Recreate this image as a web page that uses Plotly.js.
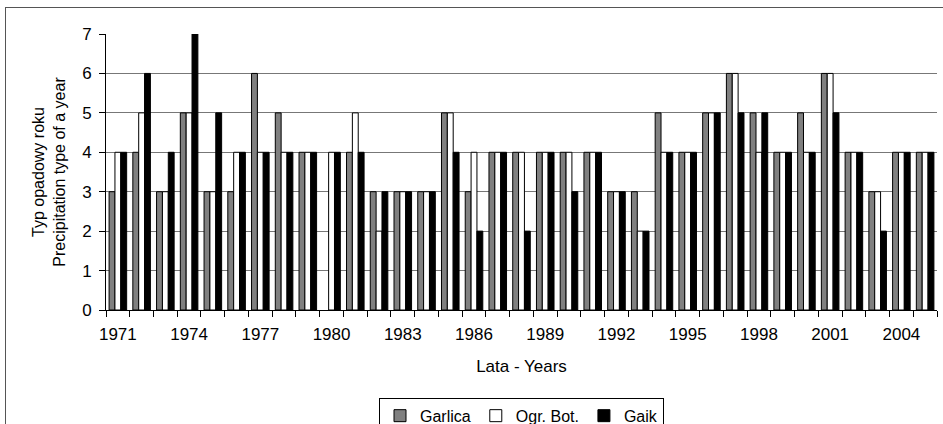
<!DOCTYPE html>
<html>
<head>
<meta charset="utf-8">
<script src="https://cdn.plot.ly/plotly-3.0.1.min.js"></script>
<style>
  html, body { margin: 0; padding: 0; background: #fff; }
  #chart { width: 943px; height: 424px; }
  #frame { position: absolute; left: 5px; top: 7px; width: 960px; height: 440px;
           border-left: 1px solid #555; border-top: 1px solid #555; pointer-events: none; }
</style>
</head>
<body>
<div id="chart"></div>
<div id="frame"></div>
<script>
const years = [1971,1972,1973,1974,1975,1976,1977,1978,1979,1980,1981,1982,1983,1984,1985,1986,1987,1988,1989,1990,1991,1992,1993,1994,1995,1996,1997,1998,1999,2000,2001,2002,2003,2004,2005];
const garlica = [3,4,3,5,3,3,6,5,4,null,4,3,3,3,5,3,4,4,4,4,4,3,3,5,4,5,6,5,4,5,6,4,3,4,4];
const ogrBot  = [4,5,3,5,3,4,4,4,4,4,5,2,3,3,5,4,4,4,4,4,4,3,2,4,4,5,6,4,4,4,6,4,3,4,4];
const gaik    = [4,6,4,7,5,4,4,4,4,4,4,3,3,3,4,2,4,2,4,3,4,3,2,4,4,5,5,5,4,4,5,4,2,4,4];
const tickYears = [1971,1974,1977,1980,1983,1986,1989,1992,1995,1998,2001,2004];
const seriesNames = ['Garlica', 'Ogr. Bot.', 'Gaik'];

const line = {color: '#000', width: 1};
const traces = [
  {type: 'bar', name: seriesNames[0], x: years, y: garlica, marker: {color: '#808080', line: line}},
  {type: 'bar', name: seriesNames[1], x: years, y: ogrBot,  marker: {color: '#ffffff', line: line}},
  {type: 'bar', name: seriesNames[2], x: years, y: gaik,    marker: {color: '#000000', line: line}}
];

const font = {family: 'Liberation Sans, Arial, sans-serif', size: 16, color: '#000'};

const layout = {
  width: 943, height: 424,
  margin: {l: 106, r: 6, t: 34, b: 114, autoexpand: false},
  paper_bgcolor: '#fff', plot_bgcolor: '#fff',
  font: font,
  barmode: 'group',
  bargap: 0.26, bargroupgap: 0,
  showlegend: true,
  legend: {orientation: 'h', x: 0.5, xanchor: 'center', y: -0.318, yanchor: 'top',
           bordercolor: '#000', borderwidth: 1, font: {size: 16},
           itemwidth: 30, tracegroupgap: 0},
  xaxis: {
    range: [years[0] - 0.5, years[years.length - 1] + 0.5],
    tickvals: tickYears, ticktext: tickYears.map(String),
    ticks: '', showgrid: false, zeroline: false,
    showline: true, linecolor: '#000', linewidth: 1,
    minor: {ticks: 'outside', ticklen: 6, tickcolor: '#000', tick0: years[0] - 0.5, dtick: 1, showgrid: false},
    ticklabelstandoff: 9,
    tickfont: {size: 17},
    title: {text: 'Lata - Years', font: {size: 17}, standoff: 16}
  },
  yaxis: {
    range: [0, 7], dtick: 1, tick0: 0,
    ticks: 'outside', ticklen: 6, tickcolor: '#000',
    showgrid: true, gridcolor: '#777', gridwidth: 1,
    zeroline: false, showline: true, linecolor: '#000', linewidth: 1,
    ticklabelstandoff: 4,
    tickfont: {size: 17},
    title: {text: 'Typ opadowy roku<br>Precipitation type of a year', font: {size: 16}, standoff: 12}
  }
};

Plotly.newPlot('chart', traces, layout, {staticPlot: true, displayModeBar: false});
</script>
</body>
</html>
